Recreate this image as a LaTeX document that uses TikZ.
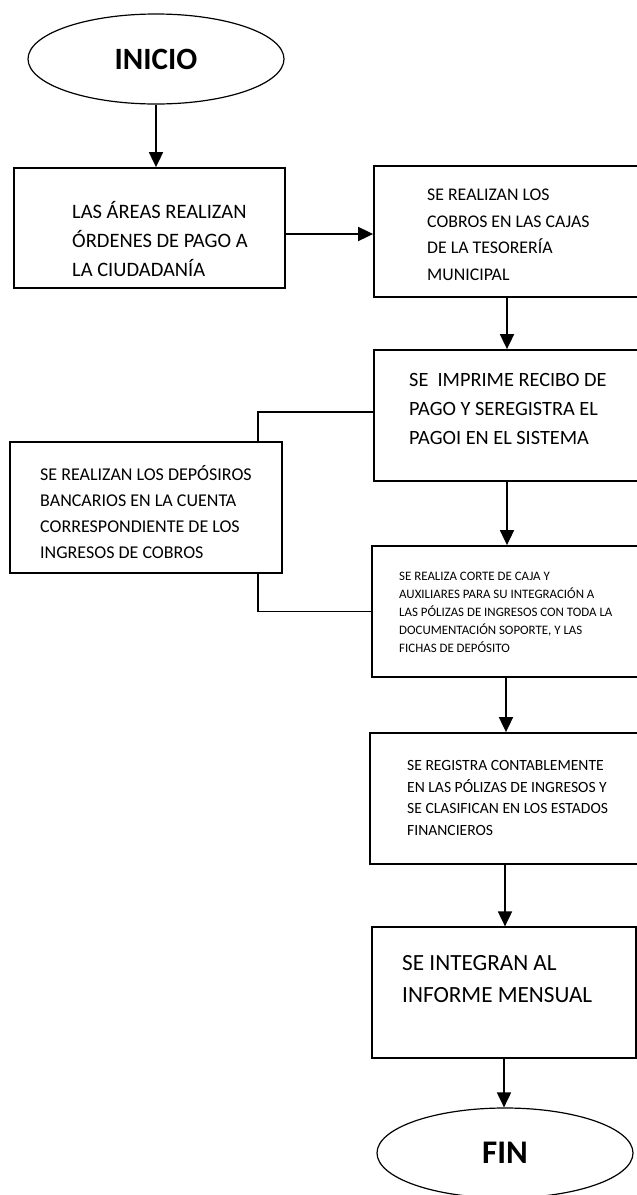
\documentclass[tikz,border=0pt]{standalone}
\usepackage{fontspec}
\setmainfont{Carlito}
\usetikzlibrary{shapes.geometric,arrows.meta}
\tikzset{
  caja/.style={draw, rectangle, line width=1.8pt, inner sep=0pt},
  terminal/.style={draw, ellipse, line width=1.2pt, inner sep=0pt,
    minimum width=256pt, minimum height=90pt},
  texto/.style={anchor=west, align=left, inner sep=0pt},
  flecha/.style={line width=1.8pt, -{Triangle[length=15pt,width=14pt]}},
  linea/.style={line width=1.8pt}
}
\newcommand{\tam}[2]{\fontsize{#1}{#2}\selectfont}
\begin{document}
\begin{tikzpicture}[x=1pt,y=-1pt]
  \useasboundingbox (0,0) rectangle (637,1195);
  % inicio y fin
  \node[terminal, font=\bfseries\tam{31}{36}] (inicio) at (156,59) {INICIO};
  \node[terminal, font=\bfseries\tam{33}{40}] (fin) at (505,1153) {FIN};
  % cajas del proceso
  \node[caja, minimum width=271pt, minimum height=120pt] (b1) at (149.5,228) {};
  \node[caja, minimum width=266pt, minimum height=131pt] (b2) at (507,231.5) {};
  \node[caja, minimum width=266pt, minimum height=131pt] (b3) at (507,415.5) {};
  \node[caja, minimum width=272pt, minimum height=131pt] (b4) at (146,507.5) {};
  \node[caja, minimum width=268pt, minimum height=131pt] (b5) at (506,611.5) {};
  \node[caja, minimum width=270pt, minimum height=131pt] (b6) at (505,798.5) {};
  \node[caja, line width=1.2pt, minimum width=264pt, minimum height=131pt] (b7) at (504,992.5) {};
  % textos
  \node[texto, font=\tam{20.5}{29}] (t1) at (72,239) {LAS ÁREAS REALIZAN\\ÓRDENES DE PAGO A\\LA CIUDADANÍA};
  \node[texto, font=\tam{17.8}{26.5}] (t2) at (427,235) {SE REALIZAN LOS\\COBROS EN LAS CAJAS\\DE LA TESORERÍA\\MUNICIPAL};
  \node[texto, font=\tam{20.3}{29}] (t3) at (409,409) {SE\ \ IMPRIME RECIBO DE\\PAGO Y SEREGISTRA EL\\PAGOI EN EL SISTEMA};
  \node[texto, font=\tam{18}{26}] (t4) at (40,512) {SE REALIZAN LOS DEPÓSIROS\\BANCARIOS EN LA CUENTA\\CORRESPONDIENTE DE LOS\\INGRESOS DE COBROS};
  \node[texto, font=\tam{12.9}{18}] (t5) at (399,612) {SE REALIZA CORTE DE CAJA Y\\AUXILIARES PARA SU INTEGRACIÓN A\\LAS PÓLIZAS DE INGRESOS CON TODA LA\\DOCUMENTACIÓN SOPORTE, Y LAS\\FICHAS DE DEPÓSITO};
  \node[texto, font=\tam{15.6}{21.5}] (t6) at (407,798) {SE REGISTRA CONTABLEMENTE\\EN LAS PÓLIZAS DE INGRESOS Y\\SE CLASIFICAN EN LOS ESTADOS\\FINANCIEROS};
  \node[texto, font=\tam{23.2}{32}] (t7) at (402,979) {SE INTEGRAN AL\\INFORME MENSUAL};
  % flechas
  \draw[flecha] (inicio.south) -- (inicio.south |- b1.north);
  \draw[flecha] ([yshift=-6pt]b1.east) -- ([yshift=-6pt]b1.east -| b2.west);
  \draw[flecha] (b2.south) -- (b2.south |- b3.north);
  \draw[flecha] (b3.south) -- (b3.south |- b5.north);
  \draw[flecha] (b5.south) -- (b5.south |- b6.north);
  \draw[flecha] (b6.south) -- (b6.south |- b7.north);
  \draw[flecha] (b7.south) -- (b7.south |- fin.north);
  % depositos bancarios
  \draw[linea] ([yshift=3.5pt]b3.west) -| ([xshift=112pt]b4.north);
  \draw[linea] ([xshift=112pt]b4.south) |- (b5.west);
\end{tikzpicture}
\end{document}
